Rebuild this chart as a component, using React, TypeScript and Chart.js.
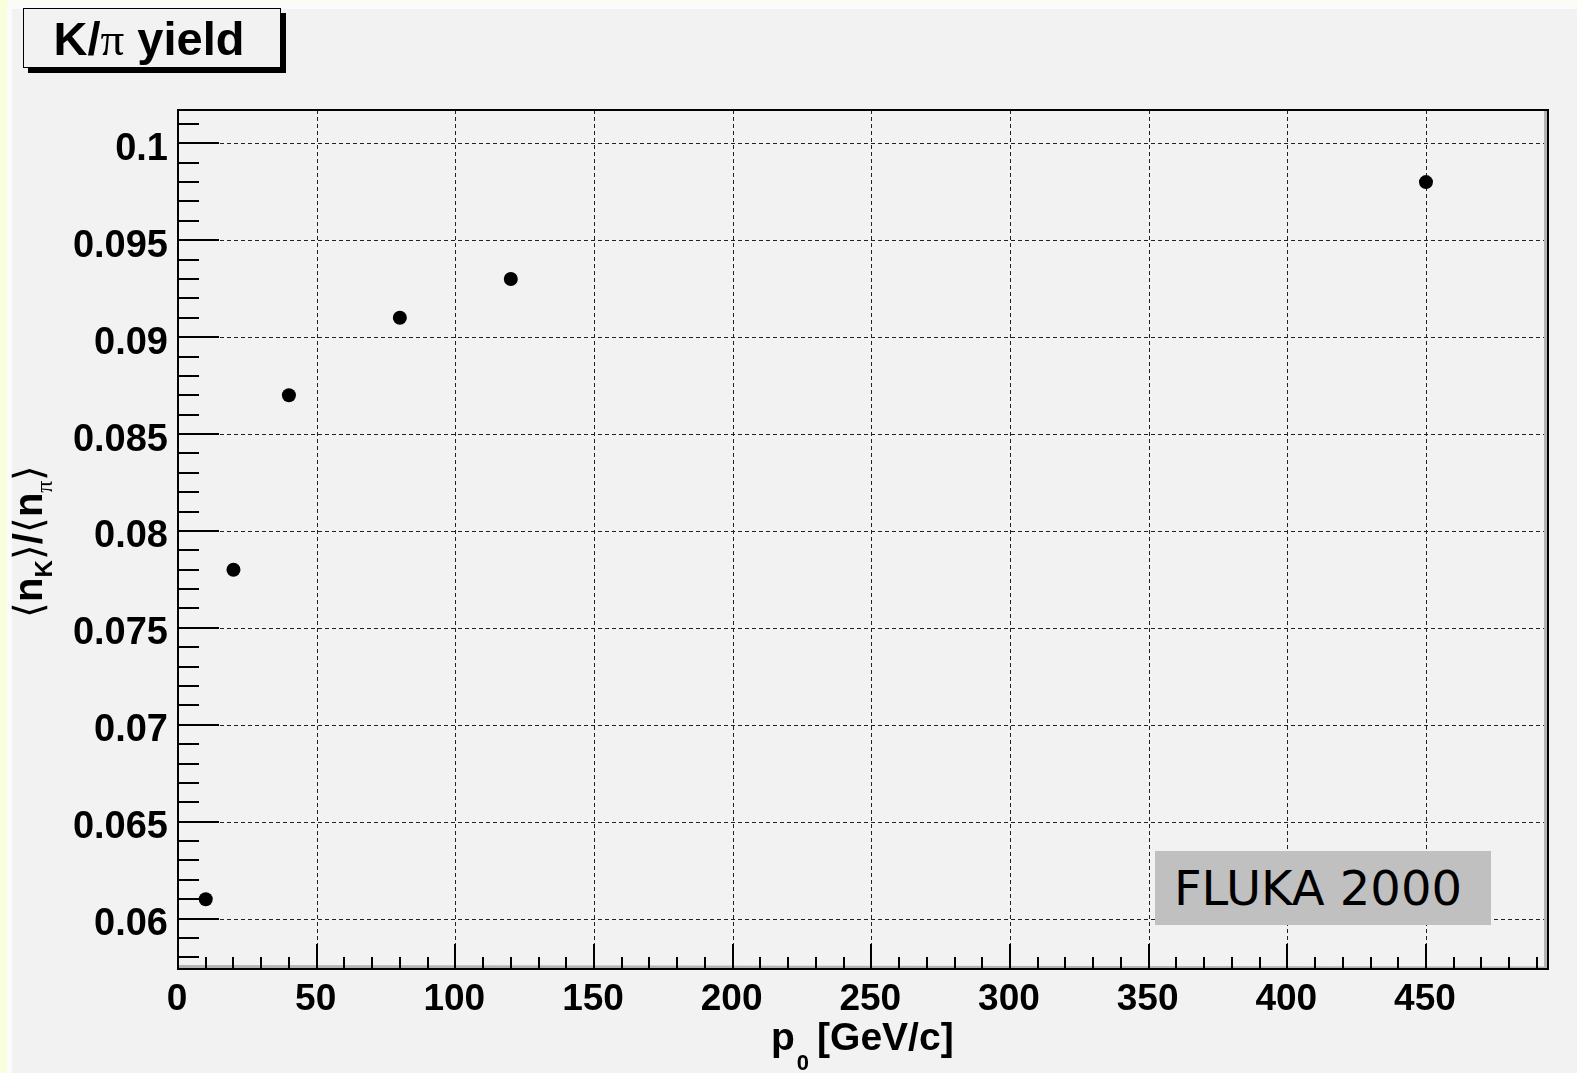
import React, { useEffect, useRef } from "react";
import { Chart, registerables } from "chart.js";

Chart.register(...registerables);

// ---- data ----
const P0 = [10, 20, 40, 80, 120, 450];
const RATIO = [0.061, 0.078, 0.087, 0.091, 0.093, 0.098];

// ---- axes ----
const X_TICKS = [0, 50, 100, 150, 200, 250, 300, 350, 400, 450];
const X_LABELS = ["0", "50", "100", "150", "200", "250", "300", "350", "400", "450"];
const Y_TICKS = [0.06, 0.065, 0.07, 0.075, 0.08, 0.085, 0.09, 0.095, 0.1];
const Y_LABELS = ["0.06", "0.065", "0.07", "0.075", "0.08", "0.085", "0.09", "0.095", "0.1"];
const X_RANGE = [0, 494];
const Y_RANGE = [0.0574, 0.10172];
const X_MINOR_STEP = 10;
const Y_MINOR_STEP = 0.001;

const TITLE_MAIN = "K/";
const TITLE_PI = "π";
const TITLE_REST = " yield";
const NOTE = "FLUKA 2000";

const W = 1577;
const H = 1073;

const framePlugin = {
  id: "rootFrame",
  beforeDatasetsDraw(chart: any) {
    const { ctx, chartArea: a, scales } = chart;
    const x = scales.x;
    const y = scales.y;
    ctx.save();
    // grid
    ctx.strokeStyle = "#222";
    ctx.lineWidth = 1;
    ctx.setLineDash([4, 3]);
    X_TICKS.forEach((v) => {
      const px = Math.round(x.getPixelForValue(v)) + 0.5;
      if (px <= a.left + 2 || px >= a.right - 2) return;
      ctx.beginPath();
      ctx.moveTo(px, a.top);
      ctx.lineTo(px, a.bottom);
      ctx.stroke();
    });
    Y_TICKS.forEach((v) => {
      const py = Math.round(y.getPixelForValue(v)) + 0.5;
      if (py <= a.top + 2 || py >= a.bottom - 2) return;
      ctx.beginPath();
      ctx.moveTo(a.left, py);
      ctx.lineTo(a.right, py);
      ctx.stroke();
    });
    ctx.setLineDash([]);
    // inner shading
    ctx.strokeStyle = "#b4b4b4";
    ctx.lineWidth = 3;
    ctx.beginPath();
    ctx.moveTo(a.right - 2.5, a.top);
    ctx.lineTo(a.right - 2.5, a.bottom - 1);
    ctx.lineTo(a.left, a.bottom - 2.5);
    ctx.stroke();
    // ticks
    ctx.strokeStyle = "#000";
    ctx.lineWidth = 2;
    for (let v = X_RANGE[0]; v <= X_RANGE[1] + 1e-9; v += X_MINOR_STEP) {
      const isMajor = Math.abs(v / 50 - Math.round(v / 50)) < 1e-6;
      const px = Math.round(x.getPixelForValue(v));
      const len = isMajor ? 25 : 12;
      ctx.beginPath();
      ctx.moveTo(px, a.bottom);
      ctx.lineTo(px, a.bottom - len);
      ctx.stroke();
    }
    const yStart = Math.ceil(Y_RANGE[0] / Y_MINOR_STEP - 1e-6);
    const yEnd = Math.floor(Y_RANGE[1] / Y_MINOR_STEP + 1e-6);
    for (let k = yStart; k <= yEnd; k++) {
      const v = k * Y_MINOR_STEP;
      const isMajor = k % 5 === 0;
      const py = Math.round(y.getPixelForValue(v));
      const len = isMajor ? 41 : 21;
      ctx.beginPath();
      ctx.moveTo(a.left, py);
      ctx.lineTo(a.left + len, py);
      ctx.stroke();
    }
    // frame
    ctx.lineWidth = 2;
    ctx.strokeStyle = "#000";
    ctx.strokeRect(a.left, a.top, a.right - a.left, a.bottom - a.top);
    ctx.restore();
  },
};

export default function App() {
  const ref = useRef<HTMLCanvasElement | null>(null);

  useEffect(() => {
    if (!ref.current) return;
    const chart = new Chart(ref.current, {
      type: "scatter",
      data: {
        datasets: [
          {
            data: P0.map((p, i) => ({ x: p, y: RATIO[i] })),
            backgroundColor: "#000",
            borderColor: "#000",
            borderWidth: 0,
            pointRadius: 7,
            pointHoverRadius: 7,
          },
        ],
      },
      options: {
        responsive: false,
        animation: false,
        devicePixelRatio: 1,
        layout: { padding: { top: 110, right: 29, left: 0, bottom: 0 } },
        plugins: { legend: { display: false }, tooltip: { enabled: false } },
        events: [],
        scales: {
          x: {
            type: "linear",
            position: "bottom",
            min: X_RANGE[0],
            max: X_RANGE[1],
            grid: { display: false, drawTicks: false },
            border: { display: false },
            afterBuildTicks: (s: any) => {
              s.ticks = X_TICKS.map((v) => ({ value: v }));
            },
            afterFit: (s: any) => {
              s.height = 104;
            },
            ticks: {
              autoSkip: false,
              maxRotation: 0,
              minRotation: 0,
              padding: 9,
              labelOffset: -1,
              color: "#000",
              font: { family: "'Liberation Sans', Arial, sans-serif", weight: "bold", size: 37 },
              callback: (_v: any, i: number) => X_LABELS[i],
            },
          },
          y: {
            type: "linear",
            position: "left",
            min: Y_RANGE[0],
            max: Y_RANGE[1],
            grid: { display: false, drawTicks: false },
            border: { display: false },
            afterBuildTicks: (s: any) => {
              s.ticks = Y_TICKS.map((v) => ({ value: v }));
            },
            afterFit: (s: any) => {
              s.width = 178;
            },
            ticks: {
              autoSkip: false,
              padding: 10,
              labelOffset: 6,
              color: "#000",
              font: { family: "'Liberation Sans', Arial, sans-serif", weight: "bold", size: 38 },
              callback: (_v: any, i: number) => Y_LABELS[i],
            },
          },
        },
      },
      plugins: [framePlugin],
    });
    return () => chart.destroy();
  }, []);

  const bracket: React.CSSProperties = {
    fontFamily: "'DejaVu Sans', 'Noto Sans', sans-serif",
    fontWeight: 300,
  };
  const ySub: React.CSSProperties = {
    fontSize: 24,
    position: "relative",
    top: 10,
  };

  return (
    <div
      style={{
        position: "fixed",
        left: 0,
        top: 0,
        width: W,
        height: H,
        overflow: "hidden",
        background: "#f8ffdc",
      }}
    >
      <div style={{ position: "absolute", left: 7, top: 1, right: 0, bottom: 0, background: "#fbfbfb" }} />
      <div style={{ position: "absolute", left: 12, top: 9, right: 0, bottom: 0, background: "#f2f2f2" }} />
      <canvas
        ref={ref}
        width={W}
        height={H}
        style={{ position: "absolute", left: 0, top: 0, width: W, height: H }}
      />
      {/* title box */}
      <div
        style={{
          position: "absolute",
          left: 23,
          top: 8,
          width: 250,
          height: 58,
          border: "1px solid #000",
          background: "#f2f2f2",
          boxShadow: "5px 5px 0 #000",
          display: "flex",
          alignItems: "center",
          justifyContent: "center",
          paddingRight: 6,
          boxSizing: "content-box",
          fontFamily: "'Liberation Sans', Arial, sans-serif",
          fontWeight: "bold",
          fontSize: 47,
          color: "#000",
          whiteSpace: "nowrap",
        }}
      >
        <span>
          {TITLE_MAIN}
          <span style={{ fontFamily: "'Liberation Serif', serif", fontWeight: "normal" }}>{TITLE_PI}</span>
          {TITLE_REST}
        </span>
      </div>
      {/* x axis title */}
      <div
        style={{
          position: "absolute",
          left: 771,
          top: 1017,
          fontFamily: "'Liberation Sans', Arial, sans-serif",
          fontWeight: "bold",
          fontSize: 39,
          lineHeight: "39px",
          color: "#000",
          whiteSpace: "nowrap",
        }}
      >
        p
        <span style={{ fontSize: 22, position: "relative", top: 20, marginLeft: 2, marginRight: 8 }}>0</span>
        [GeV/c]
      </div>
      {/* y axis title */}
      <div
        style={{
          position: "absolute",
          left: 8,
          top: 618,
          transformOrigin: "left top",
          transform: "rotate(-90deg)",
          fontFamily: "'Liberation Sans', Arial, sans-serif",
          fontWeight: "bold",
          fontSize: 40,
          lineHeight: "40px",
          color: "#000",
          whiteSpace: "nowrap",
        }}
      >
        <span style={bracket}>⟨</span>n<span style={ySub}>K</span>
        <span style={bracket}>⟩</span>/<span style={bracket}>⟨</span>n
        <span style={{ ...ySub, fontFamily: "'Liberation Serif', serif", fontWeight: "normal" }}>π</span>
        <span style={bracket}>⟩</span>
      </div>
      {/* FLUKA label */}
      <div
        style={{
          position: "absolute",
          left: 1155,
          top: 851,
          width: 336,
          height: 74,
          background: "#c0c0c0",
          display: "flex",
          alignItems: "center",
          paddingLeft: 19,
          boxSizing: "border-box",
          fontFamily: "'DejaVu Sans', sans-serif",
          fontSize: 48,
          color: "#000",
          whiteSpace: "nowrap",
        }}
      >
        {NOTE}
      </div>
    </div>
  );
}
